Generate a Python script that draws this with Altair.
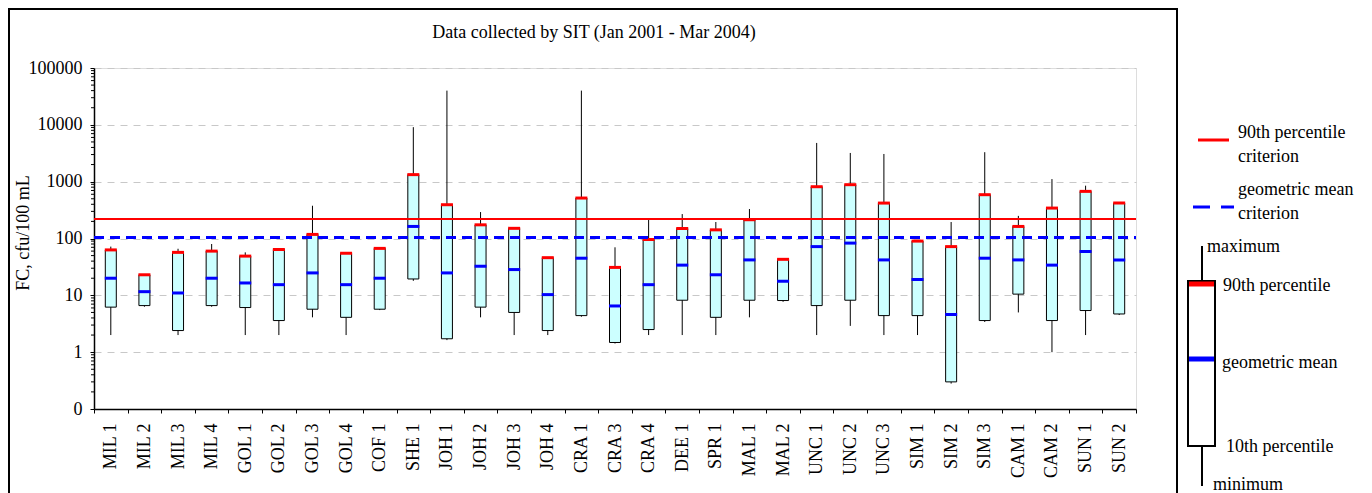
import altair as alt
import pandas as pd

sites = ["MIL 1", "MIL 2", "MIL 3", "MIL 4", "GOL 1", "GOL 2", "GOL 3", "GOL 4", "COF 1", "SHE 1",
         "JOH 1", "JOH 2", "JOH 3", "JOH 4", "CRA 1", "CRA 3", "CRA 4", "DEE 1", "SPR 1", "MAL 1",
         "MAL 2", "UNC 1", "UNC 2", "UNC 3", "SIM 1", "SIM 2", "SIM 3", "CAM 1", "CAM 2", "SUN 1", "SUN 2"]
minimum = [2, 6.3, 2, 6.3, 2, 2, 4.1, 2, 5.5, 18, 1.63, 4.1, 2, 2, 4.2, 1.42, 2, 2, 2, 4.1,
           7.7, 2, 2.9, 2, 2, 0.28, 3.4, 5, 1, 2, 4.5]
p10 = [6.2, 6.6, 2.4, 6.6, 6.1, 3.6, 5.7, 4.1, 5.7, 19.4, 1.72, 6.2, 5, 2.4, 4.4, 1.48, 2.5, 8.2, 4.1, 8.2,
       8.1, 6.6, 8.2, 4.4, 4.4, 0.3, 3.6, 10.5, 3.6, 5.4, 4.7]
gmean = [20, 11.6, 11, 20, 16.5, 15.4, 24.8, 15.4, 20, 163, 24.8, 32.5, 28.4, 10.3, 45, 6.5, 15.4, 34, 23, 42,
         17.7, 72, 83, 42, 19, 4.6, 45, 42, 34, 59, 42]
p90 = [63, 23, 57, 60, 49, 64, 118, 55, 67, 1330, 393, 174, 151, 46, 515, 31, 96, 150, 142, 214,
       43, 815, 885, 420, 90, 72, 590, 163, 343, 675, 420]
maximum = [72, 23.5, 66, 80, 57, 65, 377, 57, 68, 9100, 40000, 292, 151, 46, 40000, 70, 214, 269, 195, 330,
           43, 4800, 3200, 3070, 90, 195, 3300, 250, 1110, 850, 420]
crit_p90 = [220]
crit_gm = [104]
y_ticks = [0.1, 1, 10, 100, 1000, 10000, 100000]
minor_ticks = [k * 10.0 ** e for e in range(-1, 5) for k in range(2, 10)]

FONT = "Liberation Serif"
W, H = 1042, 341

df = pd.DataFrame({"site": sites, "min": minimum, "p10": p10, "gm": gmean, "p90": p90, "max": maximum})

yscale = alt.Scale(type="log", domain=[0.1, 100000])
yaxis = alt.Axis(values=y_ticks, labelExpr="datum.value < 0.5 ? '0' : format(datum.value, 'd')",
                 labelFont=FONT, labelFontSize=18, labelColor="black", tickColor="black", tickSize=4,
                 domainColor="black", domainWidth=1.5, grid=True, gridColor="#C8C8C8", gridDash=[7, 6],
                 labelPadding=8, title=None)
xscale = alt.Scale(domain=sites, paddingInner=0, paddingOuter=0)
xaxis = alt.Axis(labelAngle=270, labelFont=FONT, labelFontSize=18, labelColor="black", tickColor="black",
                 tickSize=4, tickBand="extent", labelPadding=10, domainColor="black", domainWidth=1.5,
                 grid=False, title=None)

X = alt.X("site:N", scale=xscale, axis=xaxis, sort=sites)

def Y(f):
    return alt.Y(f"{f}:Q", scale=yscale, axis=yaxis)

base = alt.Chart(df)
whisk = base.mark_rule(color="black", strokeWidth=1).encode(x=X, y=Y("min"), y2="max:Q")
box = base.mark_bar(size=11, fill="#CCFFFF", stroke="black", strokeWidth=1).encode(x=X, y=Y("p10"), y2="p90:Q")
t90 = base.mark_tick(color="#FF0000", thickness=3, size=12, opacity=1).encode(x=X, y=Y("p90"))
tgm = base.mark_tick(color="#0000FF", thickness=3, size=12, opacity=1).encode(x=X, y=Y("gm"))

minor = alt.Chart(pd.DataFrame({"v": minor_ticks})).mark_rule(color="black", strokeWidth=1).encode(
    y=Y("v"), x=alt.value(-3), x2=alt.value(0))

c90 = alt.Chart(pd.DataFrame({"v": crit_p90})).mark_rule(color="#FF0000", strokeWidth=2).encode(
    y=Y("v"), x=alt.value(0), x2=alt.value(W))
cgm = alt.Chart(pd.DataFrame({"v": crit_gm})).mark_rule(color="#0000FF", strokeWidth=3, strokeDash=[10, 6]).encode(
    y=Y("v"), x=alt.value(0), x2=alt.value(W))

one = alt.Chart(pd.DataFrame({"a": [0]}))

def txt(s, x, y, align="left", angle=0):
    return one.mark_text(font=FONT, fontSize=18, color="black", align=align, baseline="middle", angle=angle).encode(
        x=alt.value(x), y=alt.value(y), text=alt.value(s))

def rule(x, x2, y, y2, color="black", w=2, dash=None):
    kw = dict(color=color, strokeWidth=w)
    if dash:
        kw["strokeDash"] = dash
    return one.mark_rule(**kw).encode(x=alt.value(x), x2=alt.value(x2), y=alt.value(y), y2=alt.value(y2))

frame = one.mark_rect(filled=False, stroke="black", strokeWidth=2).encode(
    x=alt.value(-85), x2=alt.value(1083), y=alt.value(-59), y2=alt.value(520))

title = txt("Data collected by SIT  (Jan 2001 - Mar 2004)", 500, -35, align="center")
ytitle = txt("FC, cfu/100 mL", -70, 165, align="center", angle=270)

legend = [
    rule(1104, 1135, 72, 72, color="#FF0000", w=3),
    txt("90th percentile", 1144, 65), txt("criterion", 1144, 89),
    rule(1099, 1140, 139, 139, color="#0000FF", w=3, dash=[17, 11]),
    txt("geometric mean", 1144, 122), txt("criterion", 1144, 146),
    rule(1108, 1108, 178, 213), rule(1108, 1108, 378, 418),
    one.mark_rect(fill="white", stroke="black", strokeWidth=2).encode(
        x=alt.value(1094), x2=alt.value(1121), y=alt.value(213), y2=alt.value(378)),
    rule(1095, 1120, 216, 216, color="#FF0000", w=5),
    rule(1095, 1120, 291, 291, color="#0000FF", w=5),
    txt("maximum", 1113, 179), txt("90th percentile", 1129, 218), txt("geometric mean", 1128, 295),
    txt("10th percentile", 1132, 379), txt("minimum", 1119, 417),
]

chart = alt.layer(frame, whisk, box, t90, tgm, minor, c90, cgm, title, ytitle, *legend).properties(
    width=W, height=H,
    autosize=alt.AutoSizeParams(type="none"),
    padding={"left": 86, "top": 60, "right": 228, "bottom": 84},
).configure_view(stroke="#8C8C8C", strokeWidth=1.5).configure(background="white")

chart.save("out.html", embed_options={"renderer": "svg", "actions": False})
